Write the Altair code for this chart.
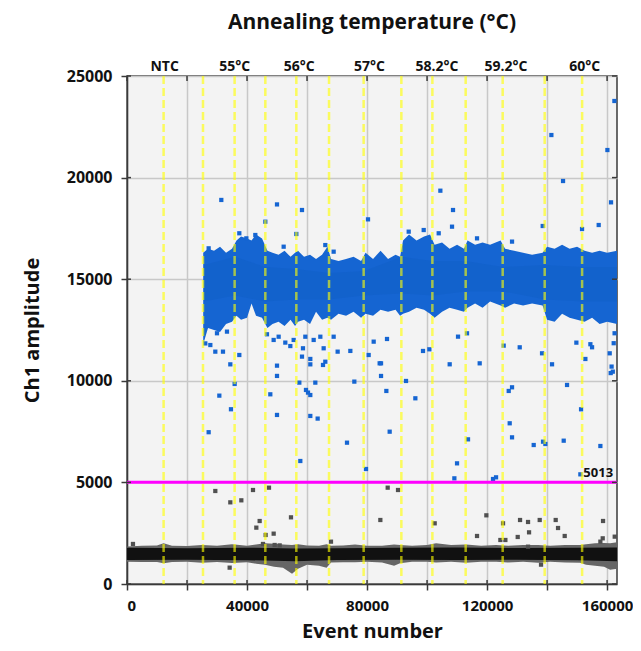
import altair as alt
import pandas as pd

X_MAX = 163300
Y_MAX = 25000
THRESHOLD = 5013

TEMP_LABELS = ["NTC", "55°C", "56°C", "57°C", "58.2°C", "59.2°C", "60°C"]
TEMP_X = [12540, 35870, 57430, 80770, 103330, 126330, 152540]
WELL_EDGES = [12200, 25330, 35870, 46100, 56430, 67330, 78870, 91430,
              101770, 112870, 125200, 139200, 151670]
X_TICKS = [0, 20000, 40000, 60000, 80000, 100000, 120000, 140000, 160000]
Y_TICKS = [0, 5000, 10000, 15000, 20000, 25000]

# positive-droplet cloud envelope
BLUE_X = [25400, 27000, 29000, 31000, 33000, 35000, 36500, 38000, 40000, 41500,
          43000, 45000, 46800, 48500, 50500, 52500, 54500, 56000, 57000, 59000,
          61000, 63000, 65000, 66800, 68000, 70500, 73000, 75500, 78000, 79500,
          82000, 84500, 87000, 89500, 91000, 92000, 94000, 96500, 99000, 101000,
          102500, 105000, 107500, 110000, 112300, 113500, 116000, 118500, 121000, 124500,
          126000, 129000, 132000, 135000, 138500, 140000, 142500, 145000, 147500, 150000,
          152500, 155000, 157500, 160000, 163300]
BLUE_TOP = [16300, 16500, 16400, 16600, 16300, 16500, 16900, 17100, 17000, 16900,
            17200, 17000, 16400, 16300, 16200, 16400, 16100, 16300, 16400, 16100,
            16200, 16000, 16200, 16600, 16000, 15900, 16000, 16100, 15900, 16300,
            16000, 16400, 16000, 16200, 16100, 16900, 17200, 16900, 17100, 17200,
            16700, 16800, 16500, 16700, 16500, 16900, 16700, 16800, 16700, 16900,
            16500, 16400, 16300, 16200, 16300, 16600, 16500, 16700, 16500, 16600,
            16400, 16300, 16400, 16300, 16400]
BLUE_BOT = [11800, 12600, 12500, 12400, 12800, 12900, 13200, 13000, 13100, 13800,
            13200, 13100, 12600, 12800, 12900, 12700, 13000, 12700, 12900, 13000,
            12800, 13400, 13000, 13100, 13000, 13300, 13200, 13400, 13100, 13300,
            13200, 13500, 13400, 13500, 13200, 13300, 13400, 13600, 13500, 13300,
            13100, 13400, 13600, 13500, 13400, 13600, 13800, 13600, 13900, 13700,
            13600, 13800, 13700, 13800, 13700, 13000, 12900, 13300, 13100, 13000,
            12900, 13100, 12800, 12900, 12800]

BLUE_CORE_X = [25600, 36000, 46200, 56500, 67400, 79000, 91500, 101900, 113000,
               125300, 139300, 151800, 163300]
BLUE_CORE_TOP = [15700, 16100, 15600, 15500, 15300, 15400, 16100, 15900, 15900,
                 15600, 15700, 15600, 15600]
BLUE_CORE_BOT = [13900, 14200, 13900, 14000, 14000, 14200, 14300, 14200, 14400,
                 14400, 14000, 13900, 13900]

# negative-droplet band envelope
BLACK_X = [0, 5000, 10000, 12200, 15000, 20000, 25000, 30000, 35000, 40000,
           43000, 46000, 49000, 52000, 55000, 57000, 60000, 64000, 66500, 68000,
           72000, 76000, 80000, 85000, 89000, 91000, 95000, 100000, 103000, 108000,
           113000, 118000, 123000, 127000, 132000, 137000, 141000, 146000, 151000, 153000,
           156000, 159000, 161000, 163300]
BLACK_TOP = [1850, 1880, 1900, 2000, 1880, 1870, 1920, 1880, 1960, 1880,
             1950, 2000, 1980, 1950, 1920, 1960, 1900, 1880, 1960, 1880,
             1900, 1950, 1880, 1880, 1950, 1920, 1880, 1920, 2000, 1920,
             1950, 1880, 1920, 1880, 1920, 1920, 1880, 1920, 1920, 1960,
             2000, 2020, 2000, 2050]
BLACK_BOT = [1100, 1080, 1080, 1020, 1080, 1100, 1040, 1080, 1030, 1070,
             1000, 950, 850, 800, 500, 750, 950, 900, 800, 1060,
             1070, 1070, 1100, 1060, 900, 1020, 1100, 1100, 1060, 1100,
             1040, 1100, 1100, 1060, 1100, 1040, 1100, 1060, 1040, 950,
             900, 850, 700, 750]
BLACK_CORE_X = [0, 20000, 40000, 56000, 70000, 90000, 110000, 130000, 150000, 163300]
BLACK_CORE_TOP = [1780, 1760, 1790, 1750, 1760, 1780, 1800, 1770, 1780, 1800]
BLACK_CORE_BOT = [1180, 1190, 1170, 1120, 1180, 1190, 1180, 1190, 1170, 1120]

BLUE_OUT_X = [31430, 49990, 58320, 46100, 80320, 56430, 29430, 31990, 34430, 37430,
              35880, 30770, 34650, 27210, 49990, 49990, 47760, 49990, 58650, 58320,
              61090, 61090, 65320, 66090, 57430, 59650, 60320, 61090, 62760, 61090,
              63540, 70200, 74430, 75760, 80540, 84200, 73320, 57760, 79650, 87540,
              113650, 128320, 135540, 138650, 139430, 145540, 157760, 109990, 109100, 121980,
              122990, 151090, 145320, 161310, 104430, 108650, 108320, 157200, 138540, 151650,
              82210, 86650, 84660, 84660, 86430, 92990, 96100, 98650, 100770, 107540,
              110320, 113320, 117540, 125540, 130880, 127210, 128320, 127540, 138320, 141650,
              146650, 151320, 149760, 152760, 154430, 154990, 160870, 161500, 161900, 161200,
              162200, 162500, 141430, 160100, 162430, 46650, 48870, 50540, 52760, 54430,
              55540, 59430, 62210, 64430, 65540, 68870, 26100, 27770, 29990, 33320,
              37430, 42760, 39770, 27210, 52210, 66090, 68870, 93880, 98880, 103880,
              116650, 128320]
BLUE_OUT_Y = [18900, 18680, 18405, 17830, 17945, 17225, 11435, 11435, 10810, 11270,
              9845, 9270, 8600, 7470, 10745, 10240, 9335, 8320, 11600, 11190,
              11075, 10810, 10780, 10940, 9910, 9550, 9420, 9300, 9910, 8270,
              8140, 11435, 11470, 9960, 11270, 10860, 6955, 6053, 5660, 7496,
              7119, 7217, 6840, 7004, 6890, 7053, 6791, 5938, 5200, 5167,
              5250, 5397, 19832, 18782, 19356, 18405, 17585, 17667, 17618, 17470,
              11927, 12058, 10860, 10238, 9500, 9992, 9139, 11468, 11550, 10812,
              12173, 12337, 10860, 11730, 11648, 9500, 9680, 7909, 11353, 10812,
              9795, 8598, 11878, 11074, 11800, 11650, 11353, 10700, 10450, 10380,
              11850, 12340, 22095, 21357, 23770, 12290, 12010, 12170, 11880, 11710,
              12010, 12170, 12010, 12170, 11600, 12170, 11840, 11760, 12340, 12420,
              17260, 17175, 17010, 16520, 16600, 16680, 16355, 17340, 17420, 17260,
              17010, 16850]

GRAY_OUT_X = [1990, 29430, 34430, 38100, 41990, 47320, 44210, 43100, 46210, 48880,
              45320, 49210, 50880, 54650, 67980, 34210, 84430, 86880, 90320, 102540,
              116650, 119760, 125320, 124430, 126100, 130990, 133650, 133990, 130210, 137540,
              142870, 143650, 145870, 158650, 157760, 158540, 162540, 133650, 137980]
GRAY_OUT_Y = [1970, 4577, 4019, 4118, 4626, 4740, 3100, 2773, 2412, 2478,
              1970, 1920, 1900, 3281, 2084, 805, 3150, 4741, 4626, 2986,
              2363, 3380, 2986, 2166, 2166, 3150, 3052, 2543, 2314, 3150,
              3150, 2756, 2363, 3101, 2084, 2248, 2330, 1838, 953]

W, H = 490, 508
FONT = "Open Sans"
AX = "#3a3a3a"

xscale = alt.Scale(domain=[0, X_MAX], nice=False, zero=False)
yscale = alt.Scale(domain=[0, Y_MAX], nice=False, zero=False)
x_axis = alt.Axis(values=X_TICKS, format="d", title="Event number",
                  labelExpr="datum.value % 40000 == 0 ? datum.label : ''",
                  grid=True, gridColor="#c8c8c8", gridWidth=1.5, labelFontSize=15,
                  tickSize=6, labelPadding=8, titlePadding=8)
y_axis = alt.Axis(values=Y_TICKS, format="d", title="Ch1 amplitude",
                  grid=True, gridColor="#c8c8c8", gridWidth=1.5,
                  tickSize=6, labelPadding=9, titlePadding=24)


def X(field="x"):
    return alt.X(f"{field}:Q", scale=xscale, axis=x_axis, title="Event number")


def Y(field="y"):
    return alt.Y(f"{field}:Q", scale=yscale, axis=y_axis, title="Ch1 amplitude")


blue_df = pd.DataFrame({"x": BLUE_X, "y": BLUE_BOT, "y2": BLUE_TOP})
blue_core_df = pd.DataFrame({"x": BLUE_CORE_X, "y": BLUE_CORE_BOT, "y2": BLUE_CORE_TOP})
black_df = pd.DataFrame({"x": BLACK_X, "y": BLACK_BOT, "y2": BLACK_TOP})
black_core_df = pd.DataFrame({"x": BLACK_CORE_X, "y": BLACK_CORE_BOT, "y2": BLACK_CORE_TOP})
blue_pts = pd.DataFrame({"x": BLUE_OUT_X, "y": BLUE_OUT_Y})
gray_pts = pd.DataFrame({"x": GRAY_OUT_X, "y": GRAY_OUT_Y})
edges_df = pd.DataFrame({"x": WELL_EDGES})
xt_df = pd.DataFrame({"x": X_TICKS})
yt_df = pd.DataFrame({"y": Y_TICKS})
temp_df = pd.DataFrame({"x": TEMP_X, "label": TEMP_LABELS})
thr_df = pd.DataFrame({"y": [THRESHOLD]})
thr_lbl = pd.DataFrame({"x": [162000], "y": [THRESHOLD], "label": [str(THRESHOLD)]})
title_df = pd.DataFrame({"label": ["Annealing temperature (°C)"]})

BLUE = "#1565d2"

blue_area = alt.Chart(blue_df).mark_area(color=BLUE, opacity=1).encode(
    x=X(), y=Y(), y2="y2:Q")
blue_core = alt.Chart(blue_core_df).mark_area(color="#0a4fae", opacity=0.15).encode(
    x=X(), y=Y(), y2="y2:Q")
black_area = alt.Chart(black_df).mark_area(color="#666666").encode(
    x=X(), y=Y(), y2="y2:Q")
black_core = alt.Chart(black_core_df).mark_area(color="#111111").encode(
    x=X(), y=Y(), y2="y2:Q")
blue_sc = alt.Chart(blue_pts).mark_square(color=BLUE, size=18, opacity=1).encode(
    x=X(), y=Y())
gray_sc = alt.Chart(gray_pts).mark_square(color="#505050", size=18, opacity=1).encode(
    x=X(), y=Y())
thr_rule = alt.Chart(thr_df).mark_rule(color="#ff00ff", strokeWidth=3).encode(y=Y())
yellow = alt.Chart(edges_df).mark_rule(color="#ffff00", strokeWidth=2.5,
                                       strokeDash=[8, 4], opacity=0.62).encode(x=X())
top_ticks = alt.Chart(xt_df).mark_rule(color=AX, strokeWidth=1.5).encode(
    x=X(), y=alt.value(0), y2=alt.value(5))
bot_ticks = alt.Chart(xt_df).mark_rule(color=AX, strokeWidth=1.5).encode(
    x=X(), y=alt.value(H), y2=alt.value(H - 4))
right_ticks = alt.Chart(yt_df).mark_rule(color=AX, strokeWidth=1.5).encode(
    y=Y(), x=alt.value(W), x2=alt.value(W - 5))
left_ticks = alt.Chart(yt_df).mark_rule(color=AX, strokeWidth=1.5).encode(
    y=Y(), x=alt.value(0), x2=alt.value(4))
temp_txt = alt.Chart(temp_df).mark_text(font=FONT, fontSize=14, fontWeight="bold",
                                        color="#111111", baseline="middle").encode(
    x=X(), y=alt.value(-9), text="label:N")
thr_txt = alt.Chart(thr_lbl).mark_text(font=FONT, fontSize=13, fontWeight="bold",
                                       color="#111111", align="right", baseline="bottom",
                                       dy=-2).encode(x=X(), y=Y(), text="label:N")
title_txt = alt.Chart(title_df).mark_text(font=FONT, fontSize=21, fontWeight="bold",
                                          color="#111111", baseline="middle").encode(
    x=alt.value(W / 2), y=alt.value(-53), text="label:N")

chart = alt.layer(
    blue_area, blue_core, black_area, black_core, blue_sc, gray_sc, thr_rule,
    yellow, top_ticks, bot_ticks, right_ticks, left_ticks, temp_txt, thr_txt, title_txt
).properties(
    width=W, height=H,
    autosize=alt.AutoSizeParams(type="none"),
    padding={"left": 119, "top": 68, "right": 16, "bottom": 58},
).configure_view(
    fill="#f3f3f3", stroke=AX, strokeWidth=1.5
).configure_axis(
    domainColor=AX, domainWidth=1.5, tickColor=AX, tickWidth=1.5,
    labelFont=FONT, labelFontSize=16, labelFontWeight="bold", labelColor="#111111",
    titleFont=FONT, titleFontSize=20, titleFontWeight="bold", titleColor="#111111",
)

chart.save("out.html", embed_options={"renderer": "svg", "actions": False})
